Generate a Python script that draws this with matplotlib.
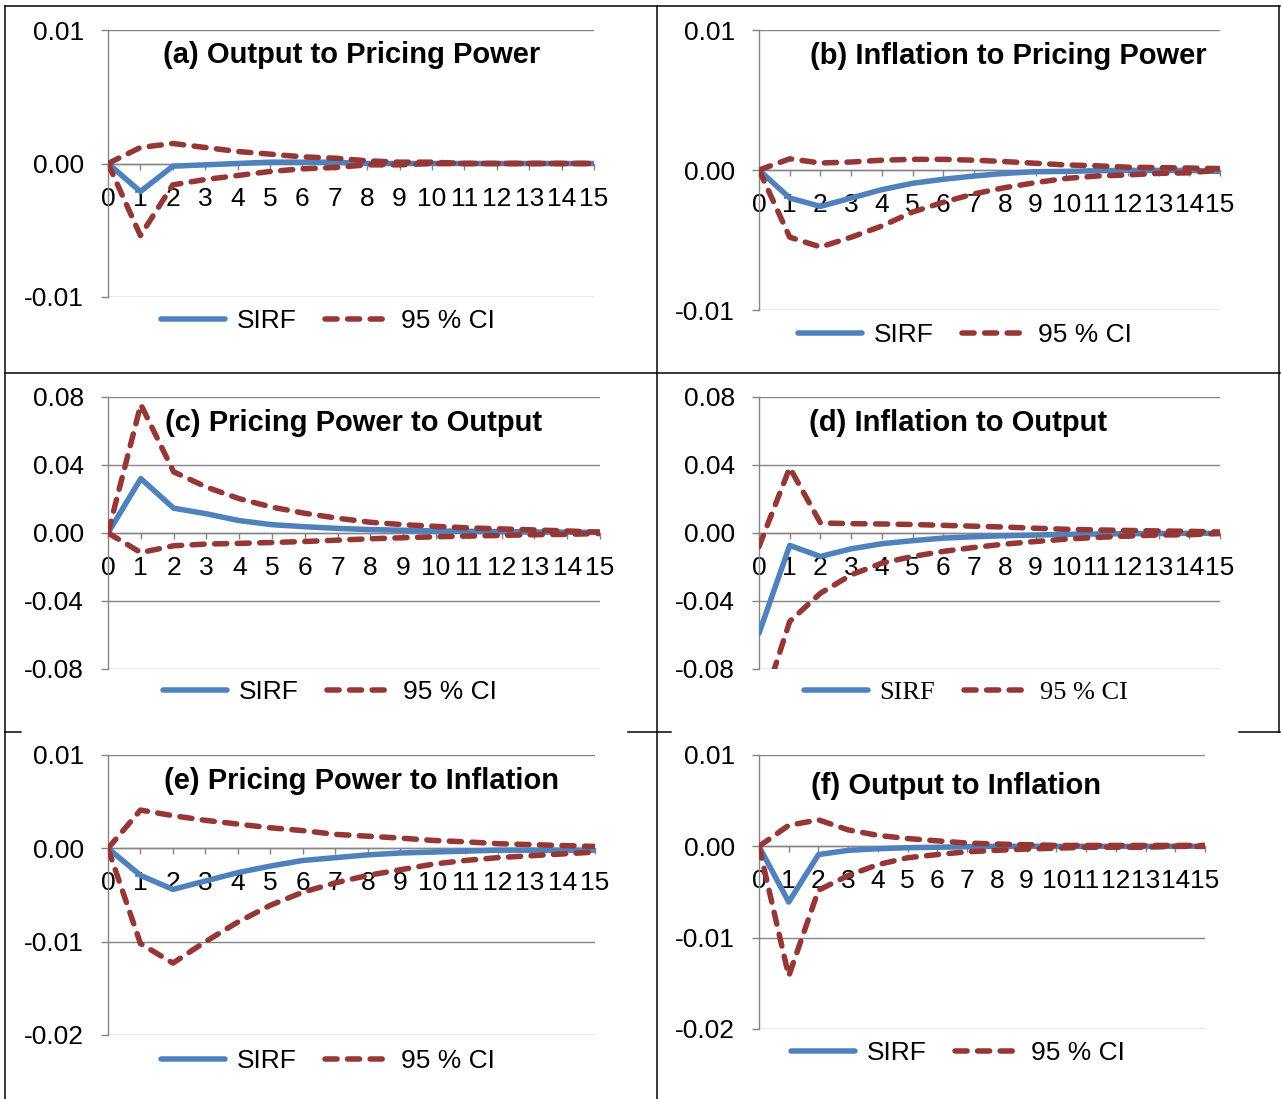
import matplotlib
matplotlib.use('Agg')
import matplotlib.pyplot as plt
from matplotlib.lines import Line2D
from matplotlib.ticker import FormatStrFormatter

plt.rcParams['font.family'] = ['Liberation Sans', 'DejaVu Sans']

# Data for plotting
horizon = list(range(16))
horizon_labels = [str(h) for h in horizon]

a_sirf = [0, -0.0021, -0.0002, -0.0001, 0.0000, 0.0001, 0.0001, 0.0001, 0.0000, 0.0000, 0.0000, 0.0000, 0.0000, 0.0000, 0.0000, 0.0000]
a_upper = [0, 0.0012, 0.0015, 0.0012, 0.0009, 0.0007, 0.0005, 0.0004, 0.0002, 0.0001, 0.0001, 0.0000, 0.0000, 0.0000, 0.0000, 0.0000]
a_lower = [0, -0.0054, -0.0016, -0.0012, -0.0009, -0.0006, -0.0004, -0.0003, -0.0001, -0.0001, 0.0000, 0.0000, 0.0000, 0.0000, 0.0000, 0.0000]

b_sirf = [0, -0.0020, -0.0026, -0.0020, -0.0014, -0.00095, -0.00066, -0.00043, -0.00024, -0.00012, -0.0001, -0.00005, -0.00003, -0.00003, -0.00003, -0.0001]
b_upper = [0, 0.0008, 0.0005, 0.00057, 0.0007, 0.00076, 0.00076, 0.0007, 0.0006, 0.00048, 0.00036, 0.0003, 0.0002, 0.00017, 0.00014, 0.0001]
b_lower = [0, -0.0048, -0.0055, -0.0048, -0.0040, -0.0030, -0.0023, -0.0017, -0.00126, -0.0009, -0.0006, -0.00043, -0.00035, -0.00024, -0.0002, 0.0000]

c_sirf = [0, 0.032, 0.0146, 0.0113, 0.0073, 0.0049, 0.0037, 0.0027, 0.0020, 0.0016, 0.0012, 0.0010, 0.0008, 0.0006, 0.0005, 0.0004]
c_upper = [0, 0.0756, 0.036, 0.027, 0.0202, 0.0152, 0.0116, 0.0087, 0.0063, 0.0049, 0.0039, 0.0030, 0.0024, 0.0018, 0.0012, 0.0005]
c_lower = [0, -0.0115, -0.0075, -0.0065, -0.0061, -0.0056, -0.0050, -0.0042, -0.0034, -0.0028, -0.0022, -0.0018, -0.0014, -0.0010, -0.0008, -0.0003]

d_sirf = [-0.059, -0.0073, -0.0138, -0.0093, -0.0063, -0.0045, -0.0030, -0.0022, -0.0016, -0.0012, -0.0008, -0.0006, -0.0004, -0.0003, -0.0002, -0.0002]
d_upper = [-0.008, 0.0384, 0.0059, 0.0055, 0.0053, 0.0050, 0.0045, 0.0040, 0.0035, 0.0028, 0.0022, 0.0018, 0.0015, 0.0012, 0.0010, 0.0006]
d_lower = [-0.108, -0.052, -0.0354, -0.0246, -0.0177, -0.0138, -0.0108, -0.0085, -0.0065, -0.0050, -0.0036, -0.0026, -0.0018, -0.0012, -0.0010, -0.0003]

e_sirf = [0, -0.0029, -0.0044, -0.0035, -0.0026, -0.0019, -0.0013, -0.0010, -0.0007, -0.0005, -0.0004, -0.0003, -0.0002, -0.0002, -0.0002, -0.0002]
e_upper = [0, 0.0041, 0.0035, 0.0030, 0.0026, 0.0022, 0.0019, 0.0015, 0.0013, 0.0011, 0.00085, 0.0007, 0.0005, 0.0004, 0.0003, 0.0002]
e_lower = [0, -0.0102, -0.0123, -0.0100, -0.0079, -0.0061, -0.0047, -0.0037, -0.0029, -0.0023, -0.0017, -0.0013, -0.0010, -0.0008, -0.0006, -0.0004]

f_sirf = [0, -0.0061, -0.0009, -0.00044, -0.00026, -0.00015, -0.0001, -0.00005, 0, 0, 0, 0, 0, 0, 0, 0]
f_upper = [0, 0.0023, 0.0029, 0.0018, 0.0012, 0.00085, 0.0006, 0.00036, 0.00025, 0.00018, 0.0001, 0.0001, 0.0001, 0.0001, 0.0001, 0.0001]
f_lower = [0, -0.0142, -0.0048, -0.0032, -0.0020, -0.00125, -0.0009, -0.0006, -0.00044, -0.0003, -0.0002, -0.0001, -0.0001, -0.0001, 0, 0]

titles = ['(a) Output to Pricing Power', '(b) Inflation to Pricing Power',
          '(c) Pricing Power to Output', '(d) Inflation to Output',
          '(e) Pricing Power to Inflation', '(f) Output to Inflation']
ticks_small = [-0.01, 0.0, 0.01]
ticks_big = [-0.08, -0.04, 0.0, 0.04, 0.08]
ticks_low = [-0.02, -0.01, 0.0, 0.01]

# panel layout in pixels: plot box (left, top, right, bottom), title centre, legend centre
W, H = 1282, 1099
panels = [
    (a_sirf, a_upper, a_lower, (108, 30, 594, 297), (-0.01, 0.01), ticks_small, (352, 55), (328, 321), 'sans'),
    (b_sirf, b_upper, b_lower, (759, 30, 1220, 310), (-0.01, 0.01), ticks_small, (1008, 56), (965, 335), 'sans'),
    (c_sirf, c_upper, c_lower, (108, 397, 600, 669), (-0.08, 0.08), ticks_big, (354, 423), (330, 692), 'sans'),
    (d_sirf, d_upper, d_lower, (759, 397, 1220, 669), (-0.08, 0.08), ticks_big, (958, 423), (966, 692), 'serif'),
    (e_sirf, e_upper, e_lower, (108, 755, 595, 1035), (-0.02, 0.01), ticks_low, (361, 781), (328, 1061), 'sans'),
    (f_sirf, f_upper, f_lower, (759, 755, 1205, 1029), (-0.02, 0.01), ticks_low, (956, 786), (958, 1053), 'sans'),
]

blue = '#4F81BD'
red = '#953735'
grey = '#868686'
px = 72 / 100  # points per pixel at dpi 100
lw = 5.5 * px
dash = (2.2, 1.9)

fig = plt.figure(figsize=(W / 100, H / 100), dpi=100)

for i, (sirf, upper, lower, box, ylim, yticks, tpos, lpos, lfont) in enumerate(panels):
    l, t, r, b = box
    ax = fig.add_axes([l / W, 1 - b / H, (r - l) / W, (b - t) / H])
    ax.plot(horizon, sirf, color=blue, lw=lw, solid_capstyle='round', solid_joinstyle='round')
    for ci in (upper, lower):
        ax.plot(horizon, ci, color=red, lw=lw, dashes=dash,
                dash_capstyle='round', dash_joinstyle='round')
    ax.set_xlim(0, 15)
    ax.set_ylim(*ylim)
    ax.set_yticks(yticks)
    ax.yaxis.set_major_formatter(FormatStrFormatter('%.2f'))
    ax.set_xticks(horizon)
    ax.set_xticklabels(horizon_labels)
    ax.yaxis.grid(True, color=grey, lw=1.4 * px)
    ax.set_axisbelow(True)
    for s in ('top', 'right'):
        ax.spines[s].set_visible(False)
    ax.spines['bottom'].set_position(('data', 0))
    for s in ('left', 'bottom'):
        ax.spines[s].set_color(grey)
        ax.spines[s].set_linewidth(1.4 * px)
        ax.spines[s].set_zorder(0.6)
    ax.tick_params(axis='y', direction='out', length=7 * px, width=1.4 * px, color=grey,
                   labelsize=19, pad=17 * px)
    ax.tick_params(axis='x', direction='out', length=6 * px, width=1.4 * px, color=grey,
                   labelsize=19, pad=17 * px)
    fig.text(tpos[0] / W, 1 - tpos[1] / H, titles[i], ha='center', va='center',
             fontsize=21, fontweight='bold')
    handles = [Line2D([], [], color=blue, lw=lw, solid_capstyle='round'),
               Line2D([], [], color=red, lw=lw, dashes=dash, dash_capstyle='round')]
    prop = {'size': 19}
    if lfont == 'serif':
        prop['family'] = ['Liberation Serif', 'DejaVu Serif']
    ax.legend(handles, ['SIRF', '95 % CI'], loc='center', ncol=2, frameon=False,
              bbox_to_anchor=(lpos[0] / W, 1 - lpos[1] / H), bbox_transform=fig.transFigure,
              handlelength=2.4, handletextpad=0.45, columnspacing=1.1, prop=prop,
              borderaxespad=0, borderpad=0)

# table borders around the six charts
def hline(y, x0, x1):
    fig.add_artist(Line2D([x0 / W, x1 / W], [1 - y / H, 1 - y / H], color='black', lw=1.5 * px))

def vline(x, y0, y1):
    fig.add_artist(Line2D([x / W, x / W], [1 - y0 / H, 1 - y1 / H], color='black', lw=1.5 * px))

hline(6, 5, 1280)
hline(373, 5, 1280)
hline(732, 5, 21)
hline(732, 628, 671)
hline(732, 1239, 1280)
vline(5, 6, 1099)
vline(657, 6, 1099)
vline(1279, 6, 732)

fig.savefig('out.png', dpi=100)
